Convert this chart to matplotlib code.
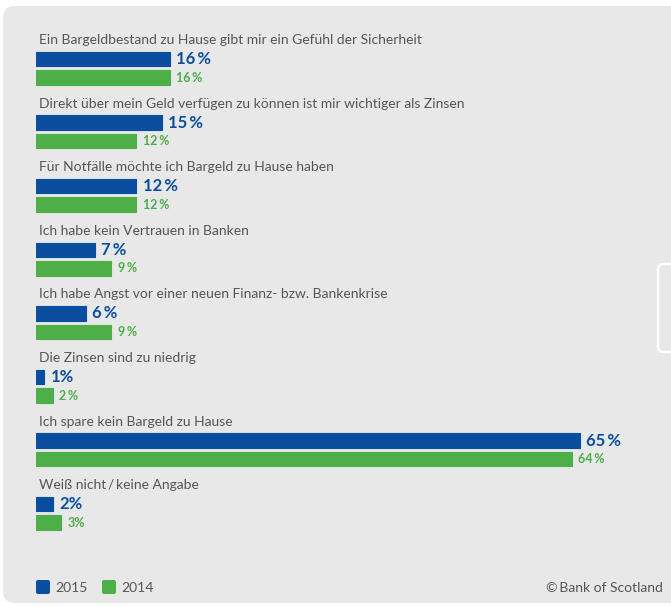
import matplotlib
matplotlib.use("Agg")
import matplotlib.pyplot as plt
from matplotlib.patches import FancyBboxPatch

categories = [
    "Ein Bargeldbestand zu Hause gibt mir ein Gefühl der Sicherheit",
    "Direkt über mein Geld verfügen zu können ist mir wichtiger als Zinsen",
    "Für Notfälle möchte ich Bargeld zu Hause haben",
    "Ich habe kein Vertrauen in Banken",
    "Ich habe Angst vor einer neuen Finanz- bzw. Bankenkrise",
    "Die Zinsen sind zu niedrig",
    "Ich spare kein Bargeld zu Hause",
    "Weiß nicht\u2009/\u2009keine Angabe",
]
values_2015 = [16, 15, 12, 7, 6, 1, 65, 2]
values_2014 = [16, 12, 12, 9, 9, 2, 64, 3]
labels_2015 = ["16\u2009%", "15\u2009%", "12\u2009%", "7\u2009%", "6\u2009%", "1%", "65\u2009%", "2%"]
labels_2014 = ["16\u2009%", "12\u2009%", "12\u2009%", "9\u2009%", "9\u2009%", "2\u2009%", "64\u2009%", "3%"]
series_names = ["2015", "2014"]

BLUE = "#0a4f9f"
GREEN = "#4caf47"
GREY_TEXT = "#555555"
PANEL = "#e8e8e8"

plt.rcParams["font.family"] = ["Lato", "DejaVu Sans"]

W, H = 671, 606
fig = plt.figure(figsize=(W / 100, H / 100), dpi=100)
fig.patch.set_facecolor("white")

# background panel in pixel coordinates
bg = fig.add_axes([0, 0, 1, 1])
bg.set_xlim(0, W)
bg.set_ylim(H, 0)
bg.axis("off")
bg.add_patch(FancyBboxPatch((3, 6), 700, 597, boxstyle="round,pad=0,rounding_size=12",
                            fc=PANEL, ec="none"))
bg.add_patch(FancyBboxPatch((658, 264), 30, 88, boxstyle="round,pad=0,rounding_size=6",
                            fc="none", ec="white", lw=1.8))

# bar axes: x in percent, y in pixel rows
px_per_pct = (580 - 36) / 65
ax = fig.add_axes([36 / W, 0, 1 - 36 / W, 1])
ax.set_xlim(0, (W - 36) / px_per_pct)
ax.set_ylim(H, 0)
ax.axis("off")

row0, step = 40.0, 63.6
bar_h = 14.5
for i, cat in enumerate(categories):
    y_lab = row0 + step * i
    y_b = y_lab + 19
    y_g = y_lab + 37.5
    ax.text(0.4, y_lab, cat, fontsize=10, color=GREY_TEXT, va="center", ha="left")
    ax.barh(y_b, values_2015[i], height=bar_h, color=BLUE, ec=BLUE, lw=0.8,
            joinstyle="round")
    ax.barh(y_g, values_2014[i], height=bar_h, color=GREEN, ec=GREEN, lw=0.8,
            joinstyle="round")
    ax.text(values_2015[i] + 0.75, y_b, labels_2015[i], fontsize=12, color=BLUE,
            fontweight="bold", va="center", ha="left")
    ax.text(values_2014[i] + 0.75, y_g, labels_2014[i], fontsize=9, color=GREEN,
            fontweight="bold", va="center", ha="left")

# legend
for x0, col, name in [(36, BLUE, series_names[0]), (102, GREEN, series_names[1])]:
    bg.add_patch(FancyBboxPatch((x0, 580), 14, 14, boxstyle="round,pad=0,rounding_size=2",
                                fc=col, ec="none"))
    bg.text(x0 + 19, 587.5, name, fontsize=10, color=GREY_TEXT, va="center", ha="left")

bg.text(663, 587.5, "\u00a9\u2009Bank of Scotland", fontsize=10, color=GREY_TEXT,
        va="center", ha="right")

fig.savefig("out.png", dpi=100)
